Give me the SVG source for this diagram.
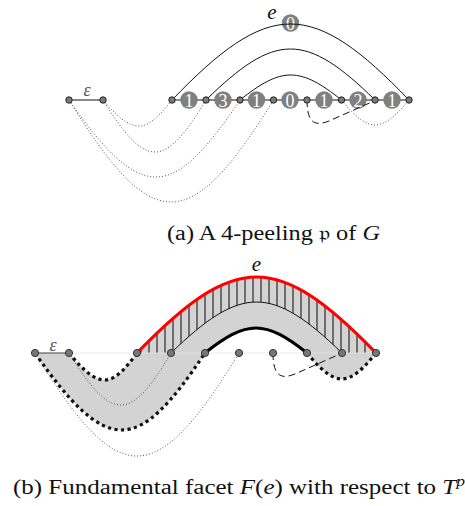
<svg xmlns="http://www.w3.org/2000/svg" width="465" height="506" viewBox="0 0 465 506">
<style>
.thin{fill:none;stroke:#111;stroke-width:1}
.dot{fill:none;stroke:#555;stroke-width:1;stroke-dasharray:1 2}
.tdot{fill:none;stroke:#111;stroke-width:3.2;stroke-dasharray:3.2 3.4}
.dash{fill:none;stroke:#111;stroke-width:1;stroke-dasharray:7 4}
.lc{fill:#808080}
.lt{fill:#fff;font-family:"Liberation Serif",serif;font-size:18px;text-anchor:middle}
.va{fill:#7a7a7a;stroke:#222;stroke-width:1}
.vb{fill:#777;stroke:#333;stroke-width:1}
</style>
<defs>
<pattern id="hatch" patternUnits="userSpaceOnUse" width="8" height="10" x="1">
<rect width="8" height="10" fill="#d3d3d3"/>
<line x1="4" y1="0" x2="4" y2="10" stroke="#1a1a1a" stroke-width="1.1"/>
</pattern>
</defs>

<!-- (a) -->
<g id="a-connectors">
<line class="thin" x1="69" y1="100" x2="103" y2="100"/>
<line class="thin" x1="172" y1="100" x2="409" y2="100"/>
</g>
<g id="a-labels">
<g id="lab1"><circle class="lc" cx="189" cy="100" r="8.7"/><text class="lt" x="189" y="106.5">1</text></g>
<g id="lab2"><circle class="lc" cx="223" cy="100" r="8.7"/><text class="lt" x="223" y="106.5">3</text></g>
<g id="lab3"><circle class="lc" cx="256.5" cy="100" r="8.7"/><text class="lt" x="256.5" y="106.5">1</text></g>
<g id="lab4"><circle class="lc" cx="290" cy="100" r="8.7"/><text class="lt" x="290" y="106.5">0</text></g>
<g id="lab5"><circle class="lc" cx="324" cy="100" r="8.7"/><text class="lt" x="324" y="106.5">1</text></g>
<g id="lab6"><circle class="lc" cx="358" cy="100" r="8.7"/><text class="lt" x="358" y="106.5">2</text></g>
<g id="lab7"><circle class="lc" cx="392" cy="100" r="8.7"/><text class="lt" x="392" y="106.5">1</text></g>
<g id="lab0"><circle class="lc" cx="290.5" cy="23" r="8.7"/><text class="lt" x="290.5" y="29.5">0</text></g>
</g>
<g id="a-arcs">
<path class="thin" d="M172,100 C219.4,50.6 255,24 290.5,24 C326,24 361.6,50.6 409,100"/>
<path class="thin" d="M206,100 C239.8,66.85 265.15,49 290.5,49 C315.85,49 341.2,66.85 375,100"/>
<path class="thin" d="M240,100 C260.3,83.75 275.5,75 290.75,75 C306,75 321.2,83.75 341.5,100"/>
<path class="dot" d="M103,100 C117.4,116.9 128.2,126 139,126 C148.9,126 158.8,116.9 172,100"/>
<path class="dot" d="M103,100 C123.8,133.8 139.4,152 155,152 C170.3,152 185.6,133.8 206,100"/>
<path class="dot" d="M69,100 C103.8,150 129.9,177 156,177 C181.2,177 206.4,150 240,100"/>
<path class="dot" d="M69,100 C109.8,166.3 140.4,202 171,202 C201.75,202 232.5,166.3 273.5,100"/>
<path class="dot" d="M341.5,100 C354.9,116.25 364.95,125 375,125 C385.2,125 395.4,116.25 409,100"/>
<path class="dash" d="M307,100 C307,122 314,127 329,121 L374,101"/>
</g>
<g id="a-vertices" class="va">
<circle cx="69" cy="100" r="3.2"/><circle cx="103" cy="100" r="3.2"/>
<circle cx="172" cy="100" r="3.2"/><circle cx="206" cy="100" r="3.2"/>
<circle cx="240" cy="100" r="3.2"/><circle cx="273.5" cy="100" r="3.2"/>
<circle cx="307" cy="100" r="3.2"/><circle cx="341.5" cy="100" r="3.2"/>
<circle cx="375" cy="100" r="3.2"/><circle cx="409" cy="100" r="3.2"/>
</g>
<text x="272" y="19" font-family="Liberation Serif" font-style="italic" font-size="21" fill="#111" text-anchor="middle">e</text>
<text x="87" y="96" font-family="Liberation Serif" font-style="italic" font-size="18" fill="#555" text-anchor="middle">ε</text>
<text x="167" y="240" font-family="Liberation Serif" font-size="20" fill="#111" textLength="213" lengthAdjust="spacingAndGlyphs">(a) A 4-peeling 𝔭 of <tspan font-style="italic">G</tspan></text>

<!-- (b) -->
<g id="b-fill">
<path fill="#d3d3d3" d="M137,353 C184.8,303.6 220.65,277 256.5,277 C292.35,277 328.2,303.6 376,353 C362.4,369.9 352.2,379 342,379 C331.5,379 321,369.9 307,353 C286.6,336.75 271.3,328 256,328 C240.7,328 225.4,336.75 205,353 C171.8,403 146.9,430 122,430 C95.9,430 69.8,403 35,353 L69,353 C83.4,370.55 94.2,380 105,380 C114.6,380 124.2,370.55 137,353 Z"/>
<path fill="url(#hatch)" d="M137,353 C184.8,303.6 220.65,277 256.5,277 C292.35,277 328.2,303.6 376,353 L342,353 C307.8,319.85 282.15,302 256.5,302 C230.85,302 205.2,319.85 171,353 Z"/>
<line x1="69" y1="353" x2="376" y2="353" stroke="#e6e6e6" stroke-width="0.8"/>
</g>
<g id="b-connectors">
<line x1="35" y1="353" x2="69" y2="353" stroke="#444" stroke-width="1"/>
<path class="dot" d="M69,353 C89.8,386.8 105.4,405 121,405 C136,405 151,386.8 171,353"/>
<path class="dot" d="M35,353 C75.8,420 106.4,456 137,456 C167.6,456 198.2,420 239,353"/>
<path class="thin" d="M171,353 C205.2,319.85 230.85,302 256.5,302 C282.15,302 307.8,319.85 342,353"/>
<path fill="none" stroke="#000" stroke-width="3.2" d="M205,353 C225.4,336.75 240.7,328 256,328 C271.3,328 286.6,336.75 307,353"/>
<path fill="none" stroke="#f00" stroke-width="3.2" d="M137,353 C184.8,303.6 220.65,277 256.5,277 C292.35,277 328.2,303.6 376,353"/>
<path class="tdot" d="M69,353 C83.4,370.55 94.2,380 105,380 C114.6,380 124.2,370.55 137,353"/>
<path class="tdot" d="M35,353 C69.8,403 95.9,430 122,430 C146.9,430 171.8,403 205,353"/>
<path class="tdot" d="M307,353 C321,369.9 331.5,379 342,379 C352.2,379 362.4,369.9 376,353"/>
<path class="dash" d="M273,353 C273,375 280,380 295,374 L340,354"/>
</g>
<g id="b-vertices" class="vb">
<circle cx="35" cy="353" r="3.6"/><circle cx="69" cy="353" r="3.6"/>
<circle cx="137" cy="353" r="3.6"/><circle cx="171" cy="353" r="3.6"/>
<circle cx="205" cy="353" r="3.6"/><circle cx="239" cy="353" r="3.6"/>
<circle cx="273" cy="353" r="3.6"/><circle cx="307" cy="353" r="3.6"/>
<circle cx="342" cy="353" r="3.6"/><circle cx="376" cy="353" r="3.6"/>
</g>
<text x="256.5" y="271" font-family="Liberation Serif" font-style="italic" font-size="21" fill="#111" text-anchor="middle">e</text>
<text x="53" y="351" font-family="Liberation Serif" font-style="italic" font-size="18" fill="#555" text-anchor="middle">ε</text>
<text x="13" y="494" font-family="Liberation Serif" font-size="20" fill="#111" textLength="452" lengthAdjust="spacingAndGlyphs">(b) Fundamental facet <tspan font-style="italic">F</tspan>(<tspan font-style="italic">e</tspan>) with respect to <tspan font-style="italic">T</tspan><tspan font-style="italic" font-size="14" dy="-8">p</tspan></text>
</svg>
